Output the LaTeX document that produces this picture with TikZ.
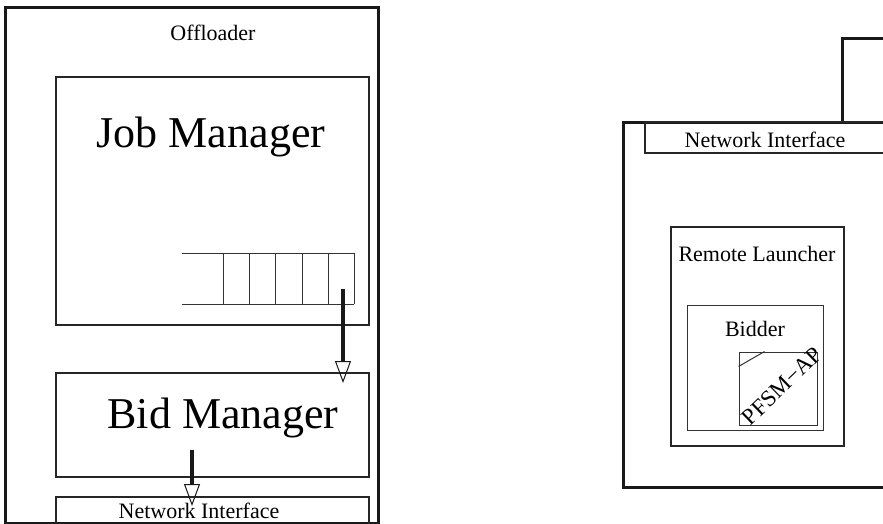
\documentclass[tikz,border=0pt]{standalone}
\usepackage{fontspec}
\setmainfont{Liberation Serif}
\usetikzlibrary{arrows.meta}
\begin{document}
\begin{tikzpicture}[x=1pt,y=-1pt,
  box/.style={draw=black!85, line width=1.5pt, inner sep=0pt},
  thickbox/.style={draw=black!90, line width=3pt, inner sep=0pt},
  thinbox/.style={draw=black!80, line width=1pt, inner sep=0pt},
  lbl/.style={font=\fontsize{22}{26}\selectfont, inner sep=0pt},
  biglbl/.style={font=\fontsize{44}{50}\selectfont, inner sep=0pt},
  qline/.style={draw=black!80, line width=1pt},
  flow/.style={draw=black!90, line width=4pt,
    -{Triangle[open, length=22pt, width=16pt, line width=1pt]}}]
\useasboundingbox[fill=white] (0,0) rectangle (883,523);
\clip (0,0) rectangle (883,523);

% ---- Offloader ----
\node[thickbox, minimum width=373pt, minimum height=516pt] (off) at (191.5,265) {};
\node[lbl] (offt) at (213,33) {Offloader};

\node[box, minimum width=313pt, minimum height=248pt] (jm) at (212.5,201) {};
\node[biglbl] (jmt) at (211,137) {Job Manager};

% job queue
\draw[qline] (182,253) -- (354,253) (182,304) -- (354,304);
\foreach \qx in {223,249,275,302,328,354}
  \draw[qline] (\qx,253) -- (\qx,304);

\node[box, minimum width=313pt, minimum height=104pt] (bm) at (212.5,425) {};
\node[biglbl] (bmt) at (223,418) {Bid Manager};

\node[box, minimum width=313pt, minimum height=38pt] (ni1) at (212.5,516) {};
\node[lbl] (ni1t) at (199,511) {Network Interface};

\coordinate (qout) at (343,289);
\coordinate (bmin) at (343,383);
\coordinate (bmout) at (192,450);
\coordinate (niin) at (192,506);
\draw[flow] (qout) -- (bmin);
\draw[flow] (bmout) -- (niin);

% ---- remote node ----
\node[thickbox, minimum width=58pt, minimum height=84pt] (tr) at (871,80) {};
\node[thickbox, minimum width=277pt, minimum height=365pt] (rb) at (761.5,304.5) {};
\node[box, minimum width=255pt, minimum height=31pt] (ni2) at (772.5,137.5) {};
\node[lbl] (ni2t) at (765,140) {Network Interface};

\node[box, minimum width=173pt, minimum height=219pt] (rl) at (757.5,336.5) {};
\node[lbl] (rlt) at (757,254) {Remote Launcher};

\node[thinbox, minimum width=136pt, minimum height=125pt] (bd) at (755,367.5) {};
\node[lbl] (bdt) at (755,329) {Bidder};

\node[thinbox, minimum width=78pt, minimum height=73pt] (pf) at (778,388.5) {};
\draw[thinbox] (pf.north west) ++(0,15) -- ++(26,-15);
\node[lbl, font=\fontsize{23}{27}\selectfont, rotate=44] (pft) at (782,386) {PFSM−AP};
\end{tikzpicture}
\end{document}
